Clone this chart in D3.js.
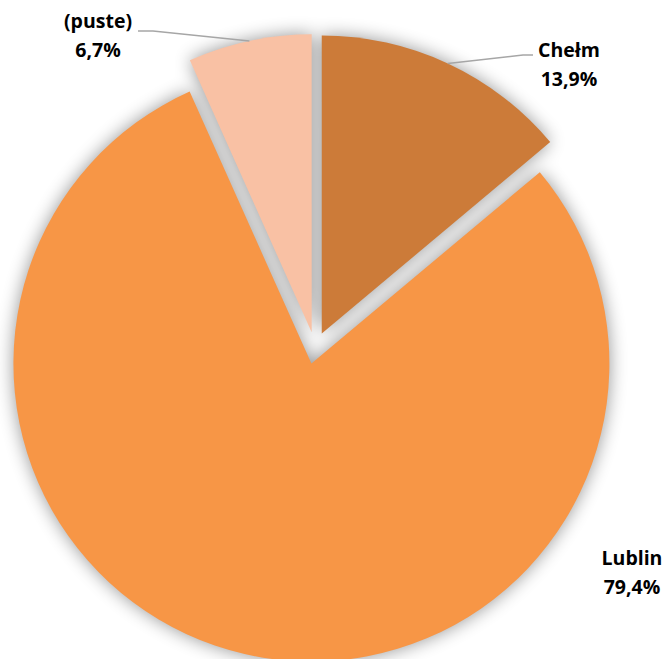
<!DOCTYPE html>
<html><head><meta charset="utf-8">
<script src="https://cdn.jsdelivr.net/npm/d3@7"></script>
<style>html,body{margin:0;padding:0;background:#fff;}svg{display:block;}</style>
</head><body>
<svg id="chart" width="665" height="659"></svg>
<script>
const categories = ["Chełm", "Lublin", "(puste)"];
const values = [13.9, 79.4, 6.7];
const valueLabels = ["13,9%", "79,4%", "6,7%"];
const colors = ["#CC7B39", "#F79646", "#F9C1A4"];

const W = 665, H = 659;
const cx = 315, cy = 348, R = 298, explode = 16;
const svg = d3.select("#chart");

const defs = svg.append("defs");
const f = defs.append("filter").attr("id","sh").attr("x","-20%").attr("y","-20%").attr("width","140%").attr("height","140%");
f.append("feGaussianBlur").attr("in","SourceAlpha").attr("stdDeviation",9).attr("result","b");
f.append("feComponentTransfer").attr("in","b").append("feFuncA").attr("type","linear").attr("slope",0.42);

const pie = d3.pie().sort(null).value(d => d)(values);
const arc = d3.arc().innerRadius(0).outerRadius(R);
const off = a => { const m = (a.startAngle + a.endAngle)/2; return [explode*Math.sin(m), -explode*Math.cos(m)]; };

const g = svg.append("g").attr("transform",`translate(${cx},${cy})`);
g.append("g").attr("filter","url(#sh)").selectAll("path").data(pie).join("path")
  .attr("d", arc).attr("fill","#000")
  .attr("transform", d => `translate(${off(d)})`);
g.append("g").selectAll("path").data(pie).join("path")
  .attr("d", arc).attr("fill", (d,i) => colors[i])
  .attr("transform", d => `translate(${off(d)})`);

const labelPos = [
  {x: 254, y: -291, elbow: [208, -293], end: [218, -293], line: true},
  {x: 317, y: 217, line: false},
  {x: -217, y: -320, elbow: [-162, -317], end: [-177, -317], line: true}
];
const labels = svg.append("g").attr("transform",`translate(${cx},${cy})`);
pie.forEach((d,i) => {
  const p = labelPos[i];
  if (p.line) {
    const m = (d.startAngle + d.endAngle)/2;
    const o = off(d);
    const sx = o[0] + R*Math.sin(m), sy = o[1] - R*Math.cos(m);
    labels.append("polyline")
      .attr("points", [[sx,sy], p.elbow, p.end].map(q=>q.join(",")).join(" "))
      .attr("fill","none").attr("stroke","#A6A6A6").attr("stroke-width",1.5);
  }
  const t = labels.append("text").attr("text-anchor","middle")
    .attr("font-family","'Open Sans', sans-serif").attr("font-weight","bold")
    .attr("font-size", 19.5).attr("fill","#000");
  t.append("tspan").attr("x", p.x).attr("y", p.y).text(categories[i]);
  t.append("tspan").attr("x", p.x).attr("y", p.y + 29).text(valueLabels[i]);
});
</script>
</body></html>
